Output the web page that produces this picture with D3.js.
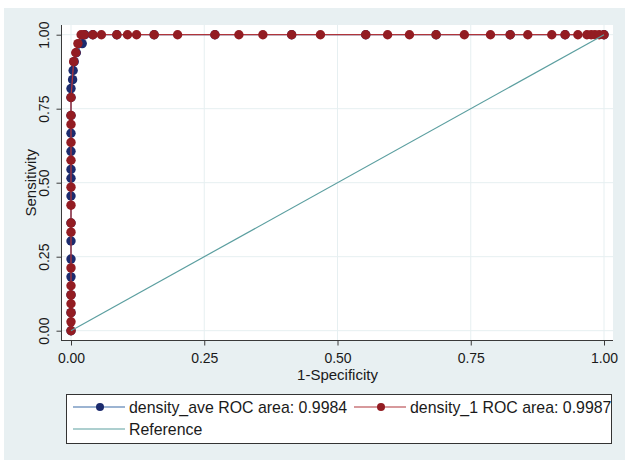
<!DOCTYPE html>
<html>
<head>
<meta charset="utf-8">
<script src="https://cdn.jsdelivr.net/npm/d3@7"></script>
<style>
  html, body { margin: 0; padding: 0; background: #fff; }
  svg { display: block; font-family: "Liberation Sans", Arial, sans-serif; }
</style>
</head>
<body>
<div id="chart"></div>
<script>
// ROC points: [1-specificity, sensitivity]
const avePoints = [
  [0, 0.000], [0, 0.061], [0, 0.121], [0, 0.182], [0, 0.242], [0, 0.303],
  [0, 0.364], [0, 0.455], [0, 0.515], [0, 0.545], [0, 0.606], [0, 0.667],
  [0, 0.727], [0, 0.788], [0, 0.818], [0.003, 0.848], [0.004, 0.879],
  [0.006, 0.909], [0.010, 0.939], [0.021, 0.970], [0.026, 1.000],
  [0.041, 1.000], [0.086, 1.000], [0.156, 1.000], [0.270, 1.000],
  [0.414, 1.000], [0.553, 1.000], [0.685, 1.000], [0.824, 1.000],
  [0.927, 1.000], [1.000, 1.000]
];
const d1Points = [
  [0, 0.000], [0, 0.030], [0, 0.061], [0, 0.091], [0, 0.121], [0, 0.152],
  [0, 0.212], [0, 0.333], [0, 0.364], [0, 0.424], [0, 0.485], [0, 0.576],
  [0, 0.636], [0, 0.697], [0, 0.727], [0, 0.788], [0.005, 0.909],
  [0.009, 0.939], [0.013, 0.970], [0.019, 1.000], [0.025, 1.000],
  [0.041, 1.000], [0.057, 1.000], [0.086, 1.000], [0.106, 1.000],
  [0.123, 1.000], [0.156, 1.000], [0.200, 1.000], [0.270, 1.000],
  [0.315, 1.000], [0.360, 1.000], [0.414, 1.000], [0.468, 1.000],
  [0.553, 1.000], [0.594, 1.000], [0.635, 1.000], [0.685, 1.000],
  [0.738, 1.000], [0.787, 1.000], [0.824, 1.000], [0.857, 1.000],
  [0.902, 1.000], [0.927, 1.000], [0.951, 1.000], [0.968, 1.000],
  [0.976, 1.000], [0.983, 1.000], [0.991, 1.000], [1.000, 1.000]
];
const refPoints = [[0, 0], [1, 1]];
const tickValues = [0, 0.25, 0.5, 0.75, 1];
const legendLabels = ['density_ave ROC area: 0.9984', 'density_1 ROC area: 0.9987', 'Reference'];

const width = 625, height = 460;
const plot = { left: 61.5, right: 613, top: 25, bottom: 340.5 };

const svg = d3.select('#chart').append('svg')
  .attr('width', width)
  .attr('height', height);

// graph region + plot region
svg.append('rect').attr('x', 4).attr('y', 8).attr('width', width - 4).attr('height', height - 8)
  .attr('fill', '#e8f0f2');
svg.append('rect')
  .attr('x', plot.left).attr('y', plot.top)
  .attr('width', plot.right - plot.left).attr('height', plot.bottom - plot.top)
  .attr('fill', '#fff');

const x = d3.scaleLinear().domain([0, 1]).range([71, 604]);
const y = d3.scaleLinear().domain([0, 1]).range([330.7, 34.7]);

// grid
svg.append('g').selectAll('line.gy')
  .data(tickValues).join('line')
  .attr('x1', plot.left).attr('x2', plot.right)
  .attr('y1', d => y(d)).attr('y2', d => y(d))
  .attr('stroke', '#e6eff1').attr('stroke-width', 1);
svg.append('g').selectAll('line.gx')
  .data(tickValues).join('line')
  .attr('y1', plot.top).attr('y2', plot.bottom)
  .attr('x1', d => x(d)).attr('x2', d => x(d))
  .attr('stroke', '#e6eff1').attr('stroke-width', 1);

// axes
const axisColor = '#3a3a3a';
const yAxis = svg.append('g')
  .attr('transform', `translate(${plot.left},0)`)
  .call(d3.axisLeft(y).tickValues(tickValues).tickFormat(d3.format('.2f')).tickSize(5).tickSizeOuter(0));
yAxis.select('.domain').remove();
yAxis.selectAll('.tick text')
  .attr('transform', 'rotate(-90)')
  .attr('x', 0).attr('y', -13).attr('dy', 0)
  .attr('text-anchor', 'middle');

const xAxis = svg.append('g')
  .attr('transform', `translate(0,${plot.bottom})`)
  .call(d3.axisBottom(x).tickValues(tickValues).tickFormat(d3.format('.2f')).tickSize(5).tickSizeOuter(0));
xAxis.select('.domain').remove();
xAxis.selectAll('.tick text').attr('y', 22).attr('dy', 0);

svg.selectAll('.tick line').attr('stroke', axisColor);
svg.selectAll('.tick text').attr('fill', '#1a1a1a').attr('font-size', 14)
  .attr('font-family', '"Liberation Sans", Arial, sans-serif');

svg.append('line').attr('x1', plot.left).attr('x2', plot.left)
  .attr('y1', plot.top).attr('y2', plot.bottom + 0.5)
  .attr('stroke', axisColor).attr('stroke-width', 1);
svg.append('line').attr('x1', plot.left).attr('x2', plot.right)
  .attr('y1', plot.bottom).attr('y2', plot.bottom)
  .attr('stroke', axisColor).attr('stroke-width', 1);

// axis titles
svg.append('text')
  .attr('x', 337.5).attr('y', 380)
  .attr('text-anchor', 'middle').attr('font-size', 15).attr('fill', '#1a1a1a')
  .text('1-Specificity');
svg.append('text')
  .attr('transform', `translate(36,${(plot.top + plot.bottom) / 2}) rotate(-90)`)
  .attr('text-anchor', 'middle').attr('font-size', 15).attr('fill', '#1a1a1a')
  .text('Sensitivity');

// series
const line = d3.line().x(d => x(d[0])).y(d => y(d[1]));
const series = [
  { pts: avePoints, lineColor: '#3b6aa6', dotColor: '#1c2b6e' },
  { pts: d1Points, lineColor: '#b0343a', dotColor: '#931c22' }
];
series.forEach(s => {
  svg.append('path').datum(s.pts)
    .attr('fill', 'none').attr('stroke', s.lineColor).attr('stroke-width', 1.3)
    .attr('d', line);
  svg.append('g').selectAll('circle')
    .data(s.pts).join('circle')
    .attr('cx', d => x(d[0])).attr('cy', d => y(d[1]))
    .attr('r', 4.7).attr('fill', s.dotColor);
});

// reference line
svg.append('path').datum(refPoints)
  .attr('fill', 'none').attr('stroke', '#5c9fa0').attr('stroke-width', 1.2)
  .attr('d', line);

// legend
const lg = svg.append('g');
lg.append('rect').attr('x', 66.5).attr('y', 394.5).attr('width', 545).attr('height', 49)
  .attr('fill', '#fff').attr('stroke', '#333').attr('stroke-width', 1);
const legendItems = [
  { label: legendLabels[0], color: '#3b6aa6', dot: '#1c2b6e', x0: 73, row: 407 },
  { label: legendLabels[1], color: '#b0343a', dot: '#931c22', x0: 354, row: 407 },
  { label: legendLabels[2], color: '#5c9fa0', dot: null, x0: 73, row: 429 }
];
legendItems.forEach(it => {
  lg.append('line').attr('x1', it.x0).attr('x2', it.x0 + 52)
    .attr('y1', it.row).attr('y2', it.row)
    .attr('stroke', it.color).attr('stroke-width', 1.2);
  if (it.dot) {
    lg.append('circle').attr('cx', it.x0 + 27).attr('cy', it.row).attr('r', 4).attr('fill', it.dot);
  }
  lg.append('text').attr('x', it.x0 + 56).attr('y', it.row + 5.5)
    .attr('font-size', 15.9).attr('fill', '#1a1a1a')
    .text(it.label);
});
</script>
</body>
</html>
